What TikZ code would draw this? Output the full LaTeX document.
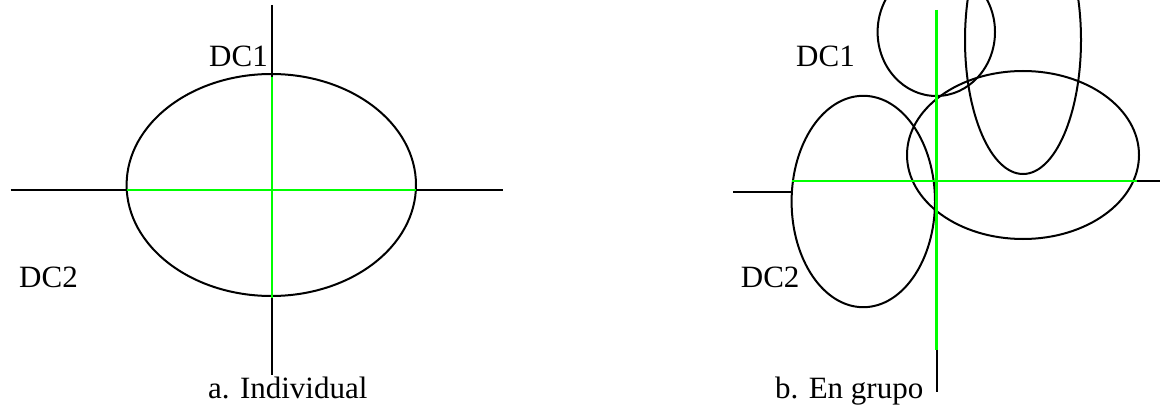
\documentclass[tikz,border=0pt]{standalone}
\usepackage{fontspec}
\setmainfont{Liberation Serif}
\definecolor{axgreen}{RGB}{0,255,0}
\begin{document}
\begin{tikzpicture}[x=1pt,y=-1pt,
  axis/.style={draw=black,line width=2pt},
  gaxis/.style={draw=axgreen,line width=2.2pt},
  oval/.style={draw=black,line width=2pt},
  lbl/.style={anchor=base west,inner sep=0pt,font=\fontsize{31}{36}\selectfont}]
\useasboundingbox (0,0) rectangle (1160,409);
\clip (0,0) rectangle (1160,409);
% ---------- panel a ----------
\coordinate (aT) at (271.7,5);
\coordinate (aB) at (271.7,375);
\coordinate (aL) at (10.7,190);
\coordinate (aR) at (503,190);
\coordinate (agT) at (271.7,77);
\coordinate (agB) at (271.7,298);
\coordinate (agL) at (126.7,190);
\coordinate (agR) at (416,190);
\draw[axis] (aT) -- (aB);
\draw[axis] (aL) -- (aR);
\draw[oval] (271.3,185) ellipse [x radius=144.7,y radius=111];
\draw[gaxis] (agT) -- (agB);
\draw[gaxis] (agL) -- (agR);
\node[lbl] (adc1) at (209,67) {DC1};
\node[lbl] (adc2) at (19,287) {DC2};
\node[lbl] (acap) at (208,398) {a. Individual};
% ---------- panel b ----------
\coordinate (bT) at (936.5,10);
\coordinate (bM) at (936.5,350);
\coordinate (bB) at (936.5,392);
\coordinate (bL1) at (733.3,192);
\coordinate (bL2) at (792,192);
\coordinate (bgL) at (792,180.7);
\coordinate (bgR) at (1137,180.7);
\coordinate (bR) at (1160,180.7);
\draw[oval] (936.3,32) ellipse [x radius=58.7,y radius=64];
\draw[oval] (1023,40) ellipse [x radius=58,y radius=134];
\draw[oval] (1023,155) ellipse [x radius=116,y radius=84];
\draw[oval] (863.3,201.5) ellipse [x radius=71.7,y radius=105.7];
\draw[axis] (bL1) -- (bL2);
\draw[axis] (bgR) -- (bR);
\draw[axis] (bM) -- (bB);
\draw[gaxis] (bT) -- (bM);
\draw[gaxis] (bgL) -- (bgR);
\node[lbl] (bdc1) at (796,66.7) {DC1};
\node[lbl] (bdc2) at (740.7,287) {DC2};
\node[lbl] (bcap) at (775,398) {b. En grupo};
\end{tikzpicture}
\end{document}
